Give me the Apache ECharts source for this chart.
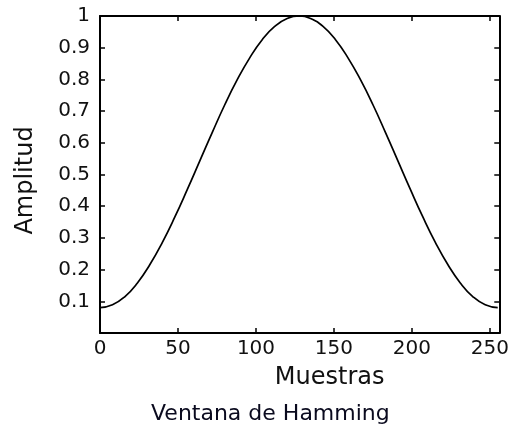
<!DOCTYPE html>
<html>
<head>
<meta charset="utf-8">
<script src="https://cdn.jsdelivr.net/npm/echarts@6/dist/echarts.min.js"></script>
<style>html,body{margin:0;padding:0;background:#fff;}#c{width:512px;height:427px;}</style>
</head>
<body>
<div id="c"></div>
<script>
// Samples (x) and amplitude values
const samples = [0, 8, 16, 24, 32, 40, 48, 56, 64, 72, 80, 88, 96, 104, 112, 120, 128,
  135, 143, 151, 159, 167, 175, 183, 191, 199, 207, 215, 223, 231, 239, 247, 255];
const amplitude = [0.080, 0.089, 0.115, 0.158, 0.216, 0.286, 0.366, 0.453, 0.543, 0.633, 0.720, 0.799, 0.868, 0.925, 0.967, 0.992, 1.000,
  0.992, 0.967, 0.925, 0.868, 0.799, 0.720, 0.633, 0.543, 0.453, 0.366, 0.286, 0.216, 0.158, 0.115, 0.089, 0.080];
const xTicks = [0, 50, 100, 150, 200, 250];
const yTicks = [0.1, 0.2, 0.3, 0.4, 0.5, 0.6, 0.7, 0.8, 0.9, 1];
const xTitle = 'Muestras';
const yTitle = 'Amplitud';
const caption = 'Ventana de Hamming';

const font = 'DejaVu Sans';
const chart = echarts.init(document.getElementById('c'), null, {renderer: 'canvas'});
const axisLineStyle = {color: '#000', width: 2};
const tickStyle = {color: '#000', width: 1.5};
chart.setOption({
  backgroundColor: '#fff',
  animation: false,
  title: {
    text: caption, left: 146, top: 398,
    textStyle: {fontFamily: font, fontSize: 22, fontWeight: 'normal', color: '#0a0a1e'}
  },
  grid: {left: 100, top: 16, right: 12, bottom: 94, containLabel: false},
  xAxis: [{
    type: 'value', min: 0, max: 256, interval: 50, position: 'bottom',
    name: xTitle, nameLocation: 'middle', nameGap: 33,
    nameTextStyle: {fontFamily: font, fontSize: 24, color: '#111', padding: [0, 0, 0, 60]},
    axisLine: {show: true, onZero: false, lineStyle: axisLineStyle},
    axisTick: {show: true, inside: true, length: 5, lineStyle: tickStyle},
    axisLabel: {fontFamily: font, fontSize: 20, color: '#111', margin: 6,
      formatter: v => xTicks.indexOf(v) >= 0 ? String(v) : ''},
    splitLine: {show: false}
  }, {
    type: 'value', min: 0, max: 256, interval: 50, position: 'top',
    axisLine: {show: true, onZero: false, lineStyle: axisLineStyle},
    axisTick: {show: true, inside: true, length: 5, lineStyle: tickStyle},
    axisLabel: {show: false}, splitLine: {show: false}
  }],
  yAxis: [{
    type: 'value', min: 0, max: 1, interval: 0.1, position: 'left',
    name: yTitle, nameLocation: 'middle', nameGap: 62, nameRotate: 90,
    nameTextStyle: {fontFamily: font, fontSize: 24, color: '#111', padding: [0, 12, 0, 0]},
    axisLine: {show: true, onZero: false, lineStyle: axisLineStyle},
    axisTick: {show: true, inside: true, length: 5, lineStyle: tickStyle},
    axisLabel: {fontFamily: font, fontSize: 20, color: '#111', margin: 10,
      formatter: v => {
        const r = Math.round(v * 10) / 10;
        return yTicks.indexOf(r) >= 0 ? String(r) : '';
      }},
    splitLine: {show: false}
  }, {
    type: 'value', min: 0, max: 1, interval: 0.1, position: 'right',
    axisLine: {show: true, onZero: false, lineStyle: axisLineStyle},
    axisTick: {show: true, inside: true, length: 5, lineStyle: tickStyle},
    axisLabel: {show: false}, splitLine: {show: false}
  }],
  series: [{
    type: 'line',
    xAxisIndex: 0, yAxisIndex: 0,
    data: samples.map((s, i) => [s, amplitude[i]]),
    smooth: true,
    showSymbol: false,
    lineStyle: {color: '#000', width: 1.7},
    clip: false
  }]
});
</script>
</body>
</html>
